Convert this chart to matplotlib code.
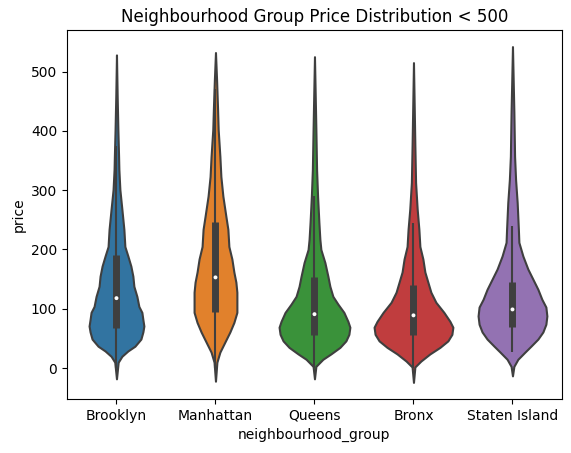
import matplotlib
matplotlib.use("Agg")
import matplotlib.pyplot as plt
import numpy as np

groups = ["Brooklyn", "Manhattan", "Queens", "Bronx", "Staten Island"]
colors = ["#3274a1", "#e1812c", "#3a923a", "#c03d3e", "#9372b2"]

# violin outline: price levels and half-widths (px, 99 px per category)
brooklyn_price = [-18, 10, 20, 29, 37, 49, 61, 71, 82, 94, 104, 121, 138, 155, 172, 189, 205,
                  234, 268, 301, 335, 357, 402, 458, 528]
brooklyn_half = [0, 2.3, 6, 12, 19, 25, 27, 28, 27, 26, 23, 21, 18, 17, 15, 12, 9,
                 8, 6, 4, 3, 2.7, 2, 1.3, 0]
manhattan_price = [-22, 10, 27, 44, 61, 77, 94, 111, 128, 145, 162, 184, 205, 234, 256, 290,
                   323, 357, 402, 436, 486, 532]
manhattan_half = [0, 2, 5, 10, 15, 19, 22, 22, 22, 21, 19, 17, 14, 13, 11, 8,
                  6, 5, 3.3, 2.7, 1.7, 0]
queens_price = [-18, 3, 15, 24, 35, 46, 57, 69, 79, 94, 108, 121, 138, 155, 178, 200, 217,
                246, 290, 335, 402, 525]
queens_half = [0, 2, 9, 17, 26, 32, 35, 36, 34, 30, 24, 19, 16, 14, 11, 7, 6,
               5, 3.7, 2.7, 2, 0]
bronx_price = [-24, 2, 12, 24, 35, 46, 57, 69, 79, 94, 111, 128, 145, 162, 184, 205, 234,
               268, 313, 374, 515]
bronx_half = [0, 2, 8, 17, 27, 35, 39, 40, 37, 31, 23, 18, 15, 12, 10, 7, 6,
              4.3, 2.7, 2, 0]
staten_price = [-13, 3, 15, 27, 37, 49, 61, 74, 88, 103, 116, 133, 150, 167, 189, 212,
                234, 279, 318, 357, 431, 542]
staten_half = [0, 2, 6, 13, 19, 26, 31, 34, 35, 34, 30, 26, 21, 16, 11, 7,
               6.5, 5.3, 3.7, 2.7, 2, 0]

# inner box: lower whisker, q1, median, q3, upper whisker
whisk_lo = [0, 0, 0, 0, 27]
q1 = [67, 94, 56, 56, 69]
median = [118, 153, 91, 89, 99]
q3 = [190, 246, 153, 140, 145]
whisk_hi = [374, 470, 290, 244, 239]

prices = [brooklyn_price, manhattan_price, queens_price, bronx_price, staten_price]
halves = [brooklyn_half, manhattan_half, queens_half, bronx_half, staten_half]

fig = plt.figure(figsize=(5.71, 4.53), dpi=100)
ax = fig.add_axes([0.1173, 0.1192, 0.8669, 0.8146])

edge = "#3f3f3f"
for i, g in enumerate(groups):
    y = np.array(prices[i], float)
    # measured to the outer side of the outline, take half a line width off
    w = np.clip(np.array(halves[i], float) - 0.6, 0, None) / 99.0
    ax.fill_betweenx(y, i - w, i + w, facecolor=colors[i], edgecolor=edge, linewidth=1.5,
                     zorder=1, joinstyle="round")
    ax.plot([i, i], [whisk_lo[i], whisk_hi[i]], color=edge, linewidth=1.5, zorder=2,
            solid_capstyle="butt")
    ax.plot([i, i], [q1[i], q3[i]], color=edge, linewidth=5, zorder=2, solid_capstyle="butt")
    ax.scatter([i], [median[i]], color="white", s=8, zorder=3, edgecolors="none")

ax.set_xlim(-0.5, 4.5)
ax.set_ylim(-52, 570)
ax.set_xticks(range(len(groups)))
ax.set_xticklabels(groups)
ax.set_yticks([0, 100, 200, 300, 400, 500])
ax.set_xlabel("neighbourhood_group")
ax.set_ylabel("price")
ax.set_title("Neighbourhood Group Price Distribution < 500")

fig.savefig("out.png", dpi=100)
